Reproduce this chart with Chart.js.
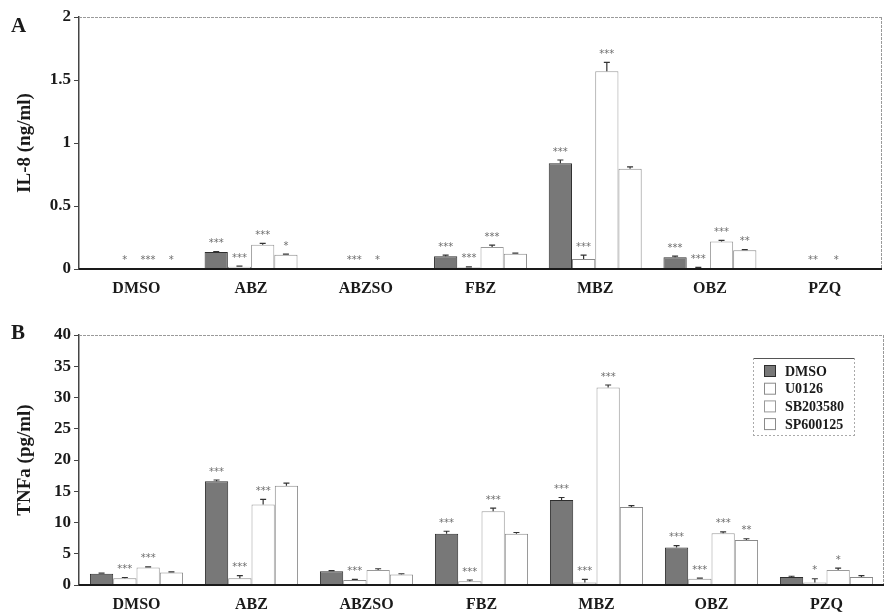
<!DOCTYPE html>
<html><head><meta charset="utf-8">
<script src="https://cdn.jsdelivr.net/npm/chart.js@4/dist/chart.umd.min.js"></script>
<style>
html,body{margin:0;padding:0;background:#fff;}
#wrap{position:relative;width:886px;height:614px;overflow:hidden;background:#fff;}
canvas{position:absolute;left:0;}
.panel{position:absolute;font:bold 21px "Liberation Serif",serif;line-height:1;color:#1a1a1a;}
</style></head><body>
<div id="wrap">
<canvas id="cA" width="886" height="305" style="top:0"></canvas>
<canvas id="cB" width="886" height="309" style="top:305px"></canvas>
<div class="panel" style="left:11px;top:15px">A</div>
<div class="panel" style="left:11px;top:322px">B</div>
</div>
<script>
// Compounds on the x axis and the four treatment groups
const categories = ['DMSO', 'ABZ', 'ABZSO', 'FBZ', 'MBZ', 'OBZ', 'PZQ'];
const seriesNames = ['DMSO', 'U0126', 'SB203580', 'SP600125'];

// IL-8 (ng/ml)
const il8Dmso  = [0.008, 0.134, 0.005, 0.102, 0.840, 0.094, 0.003];
const il8U0126 = [0.004, 0.018, 0.003, 0.012, 0.080, 0.008, 0.002];
const il8SB    = [0.008, 0.193, 0.004, 0.175, 1.570, 0.219, 0.004];
const il8SP    = [0.008, 0.113, 0.004, 0.121, 0.795, 0.148, 0.004];
const il8ErrDmso  = [0, 0.005, 0, 0.008, 0.025, 0.008, 0];
const il8ErrU0126 = [0, 0.005, 0, 0.005, 0.030, 0.005, 0];
const il8ErrSB    = [0, 0.010, 0, 0.015, 0.070, 0.008, 0];
const il8ErrSP    = [0, 0.005, 0, 0.005, 0.015, 0.005, 0];
const il8StarsDmso  = ['', '***', '', '***', '***', '***', ''];
const il8StarsU0126 = ['*', '***', '***', '***', '***', '***', '**'];
const il8StarsSB    = ['***', '***', '*', '***', '***', '***', '*'];
const il8StarsSP    = ['*', '*', '', '', '', '**', ''];
const il8Ticks = [0, 0.5, 1, 1.5, 2];

// TNFa (pg/ml)
const tnfDmso  = [1.8, 16.6, 2.2, 8.2, 13.6, 6.0, 1.3];
const tnfU0126 = [1.1, 1.1, 0.8, 0.6, 0.4, 1.0, 0.4];
const tnfSB    = [2.8, 12.9, 2.4, 11.8, 31.6, 8.3, 2.4];
const tnfSP    = [2.0, 15.9, 1.7, 8.2, 12.5, 7.2, 1.3];
const tnfErrDmso  = [0.1, 0.2, 0.1, 0.4, 0.4, 0.3, 0.1];
const tnfErrU0126 = [0.1, 0.4, 0.1, 0.2, 0.5, 0.1, 0.6];
const tnfErrSB    = [0.1, 0.8, 0.2, 0.5, 0.4, 0.2, 0.3];
const tnfErrSP    = [0.1, 0.4, 0.1, 0.2, 0.2, 0.2, 0.2];
const tnfStarsDmso  = ['', '***', '', '***', '***', '***', ''];
const tnfStarsU0126 = ['***', '***', '***', '***', '***', '***', '*'];
const tnfStarsSB    = ['***', '***', '', '***', '***', '***', '*'];
const tnfStarsSP    = ['', '', '', '', '', '**', ''];
const tnfTicks = [0, 5, 10, 15, 20, 25, 30, 35, 40];

const SERIF = '"Liberation Serif", "Times New Roman", serif';
const barFill = ['#787878', '#ffffff', '#ffffff', '#ffffff'];
const barEdge = ['#2e2e2e', '#8a8a8a', '#9a9a9a', '#8a8a8a'];

// frame, error caps, significance marks and the optional inset legend
const panelDecor = {
  id: 'panelDecor',
  beforeDatasetsDraw(chart) {
    const a = chart.chartArea, c = chart.ctx;
    c.save();
    c.strokeStyle = '#9a9a9a'; c.lineWidth = 1;
    c.setLineDash([3, 1]);
    c.beginPath();
    c.moveTo(a.left, a.top + 0.5); c.lineTo(a.right, a.top + 0.5);
    c.moveTo(a.right - 0.5, a.top); c.lineTo(a.right - 0.5, a.bottom);
    c.stroke();
    c.restore();
  },
  afterDatasetsDraw(chart) {
    const o = chart.options.plugins.panelDecor;
    const a = chart.chartArea, c = chart.ctx, ys = chart.scales.y;
    c.save();
    // baseline
    c.strokeStyle = '#1a1a1a'; c.lineWidth = 2;
    c.beginPath(); c.moveTo(a.left, a.bottom); c.lineTo(a.right, a.bottom); c.stroke();
    chart.data.datasets.forEach((ds, i) => {
      const meta = chart.getDatasetMeta(i);
      meta.data.forEach((el, j) => {
        const v = ds.data[j], e = o.errors[i][j];
        const yTop = ys.getPixelForValue(v + e);
        if (e > 0) {
          c.strokeStyle = '#333'; c.lineWidth = 1.2;
          c.beginPath();
          c.moveTo(el.x, el.y); c.lineTo(el.x, yTop);
          c.moveTo(el.x - 3, yTop); c.lineTo(el.x + 3, yTop);
          c.stroke();
        }
        const s = o.stars[i][j];
        if (s) {
          c.fillStyle = '#6e6e6e';
          c.font = '10px "DejaVu Sans", sans-serif';
          c.textAlign = 'center'; c.textBaseline = 'top';
          c.fillText(s, el.x, Math.min(yTop, el.y) - 13);
        }
      });
    });
    if (o.legend) {
      const L = o.legend;
      c.strokeStyle = '#555'; c.lineWidth = 1;
      c.beginPath(); c.moveTo(L.x, L.y + 0.5); c.lineTo(L.x + L.w, L.y + 0.5); c.stroke();
      c.strokeStyle = '#aaa'; c.setLineDash([2, 2]);
      c.beginPath();
      c.moveTo(L.x + 0.5, L.y); c.lineTo(L.x + 0.5, L.y + L.h);
      c.moveTo(L.x + L.w - 0.5, L.y); c.lineTo(L.x + L.w - 0.5, L.y + L.h);
      c.moveTo(L.x, L.y + L.h - 0.5); c.lineTo(L.x + L.w, L.y + L.h - 0.5);
      c.stroke();
      c.setLineDash([]);
      chart.data.datasets.forEach((ds, i) => {
        const cy = L.y + L.first + i * L.step;
        c.fillStyle = ds.backgroundColor;
        c.fillRect(L.x + 11, cy - 6, 12, 12);
        c.strokeStyle = ds.borderColor; c.lineWidth = 1;
        c.strokeRect(L.x + 11.5, cy - 5.5, 11, 11);
        c.fillStyle = '#1a1a1a';
        c.font = 'bold 14px ' + SERIF;
        c.textAlign = 'left'; c.textBaseline = 'middle';
        c.fillText(ds.label, L.x + 32, cy + 1);
      });
    }
    c.restore();
  }
};

function makePanel(id, cfg) {
  const datasets = cfg.series.map((d, i) => ({
    label: seriesNames[i], data: d,
    backgroundColor: barFill[i], borderColor: barEdge[i], borderWidth: 1,
    categoryPercentage: 0.81, barPercentage: 1.0
  }));
  return new Chart(document.getElementById(id), {
    type: 'bar',
    data: { labels: categories, datasets },
    plugins: [panelDecor],
    options: {
      responsive: false, animation: false,
      layout: { padding: { top: cfg.top, right: cfg.right, left: 0, bottom: 0 } },
      plugins: {
        legend: { display: false }, tooltip: { enabled: false },
        panelDecor: { errors: cfg.errors, stars: cfg.stars, legend: cfg.legend }
      },
      scales: {
        x: {
          grid: { display: false }, border: { display: false },
          ticks: { color: '#1a1a1a', padding: cfg.xPad, font: { family: SERIF, size: 16, weight: 'bold' } },
          afterFit(s) { s.height = cfg.xHeight; }
        },
        y: {
          min: cfg.ticks[0], max: cfg.ticks[cfg.ticks.length - 1],
          afterBuildTicks(s) { s.ticks = cfg.ticks.map(v => ({ value: v })); },
          grid: { display: true, drawOnChartArea: false, drawTicks: true, tickLength: 5, color: '#444' },
          border: { display: true, color: '#444', width: 1.5 },
          ticks: { color: '#1a1a1a', padding: 3, font: { family: SERIF, size: 17, weight: 'bold' },
                   callback: v => String(v) },
          title: { display: true, text: cfg.title, color: '#1a1a1a',
                   font: { family: SERIF, size: 19, weight: 'bold', lineHeight: 1 },
                   padding: { top: 16, bottom: 0 } },
          afterFit(s) { s.width = 79; }
        }
      }
    }
  });
}

makePanel('cA', {
  series: [il8Dmso, il8U0126, il8SB, il8SP],
  errors: [il8ErrDmso, il8ErrU0126, il8ErrSB, il8ErrSP],
  stars: [il8StarsDmso, il8StarsU0126, il8StarsSB, il8StarsSP],
  ticks: il8Ticks, title: 'IL-8 (ng/ml)',
  top: 17, right: 4, xHeight: 36, xPad: 2
});

makePanel('cB', {
  series: [tnfDmso, tnfU0126, tnfSB, tnfSP],
  errors: [tnfErrDmso, tnfErrU0126, tnfErrSB, tnfErrSP],
  stars: [tnfStarsDmso, tnfStarsU0126, tnfStarsSB, tnfStarsSP],
  ticks: tnfTicks, title: 'TNFa (pg/ml)',
  top: 30, right: 2, xHeight: 29, xPad: 2,
  legend: { x: 753, y: 53, w: 102, h: 78, first: 13, step: 17.7 }
});
</script>
</body></html>
